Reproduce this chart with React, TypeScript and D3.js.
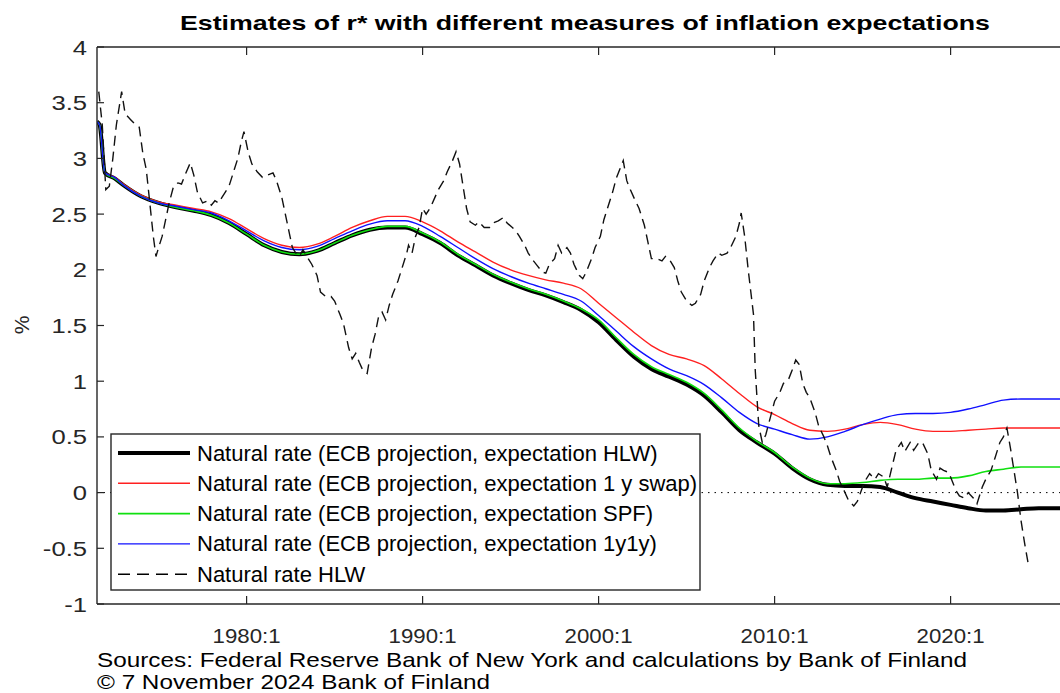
import React from "react";
import * as d3 from "d3";

// ---------- data ----------
const projDates = [
  1971.5, 1971.65, 1971.95, 1972.5,
  1973, 1974, 1975, 1976, 1977, 1978, 1979, 1980, 1981, 1982,
  1983, 1984, 1985, 1986, 1987, 1988, 1989, 1990, 1991, 1992,
  1993, 1994, 1995, 1996, 1997, 1998, 1999, 2000, 2001, 2002,
  2003, 2004, 2005, 2006, 2007, 2008, 2009, 2010, 2011, 2012,
  2013, 2014, 2015, 2016, 2017, 2018, 2019, 2020, 2021, 2022,
  2023, 2024, 2025, 2026, 2027,
];

const hlwExpectation = [
  3.33, 3.3, 2.87, 2.82,
  2.76, 2.66, 2.6, 2.56, 2.53, 2.49, 2.42, 2.32, 2.22, 2.16,
  2.14, 2.17, 2.24, 2.31, 2.36, 2.38, 2.38, 2.32, 2.24, 2.13,
  2.04, 1.95, 1.88, 1.82, 1.77, 1.71, 1.64, 1.53, 1.37, 1.22,
  1.11, 1.04, 0.97, 0.87, 0.72, 0.56, 0.45, 0.35, 0.22, 0.12,
  0.07, 0.06, 0.06, 0.05, 0.0, -0.05, -0.08, -0.11, -0.14, -0.16,
  -0.16, -0.15, -0.14, -0.14, -0.14,
];

const swapExpectation = [
  3.33, 3.3, 2.87, 2.83,
  2.77, 2.67, 2.61, 2.58, 2.55, 2.52, 2.46, 2.37, 2.28, 2.22,
  2.2, 2.23, 2.3, 2.38, 2.44, 2.48, 2.48, 2.43, 2.35, 2.25,
  2.16, 2.07, 2.0, 1.95, 1.91, 1.88, 1.83, 1.7, 1.57, 1.44,
  1.32, 1.24, 1.2, 1.14, 1.02, 0.89, 0.77, 0.7, 0.62, 0.56,
  0.55, 0.57, 0.61, 0.63, 0.61, 0.57, 0.55, 0.55, 0.56, 0.57,
  0.58, 0.58, 0.58, 0.58, 0.58,
];

const spfExpectation = [
  3.33, 3.3, 2.87, 2.82,
  2.76, 2.66, 2.6, 2.56, 2.53, 2.49, 2.42, 2.32, 2.22, 2.16,
  2.14, 2.17, 2.24, 2.31, 2.36, 2.39, 2.39, 2.33, 2.25, 2.14,
  2.05, 1.96, 1.89, 1.83, 1.78, 1.72, 1.65, 1.55, 1.39, 1.24,
  1.13, 1.06, 0.99, 0.89, 0.74, 0.58, 0.46, 0.36, 0.23, 0.13,
  0.08, 0.08, 0.09, 0.11, 0.12, 0.12, 0.13, 0.13, 0.15, 0.19,
  0.21, 0.23, 0.23, 0.23, 0.23,
];

const y1y1Expectation = [
  3.33, 3.3, 2.87, 2.83,
  2.76, 2.66, 2.6, 2.57, 2.54, 2.51, 2.44, 2.35, 2.26, 2.2,
  2.18, 2.21, 2.28, 2.35, 2.41, 2.44, 2.44, 2.39, 2.3, 2.2,
  2.1, 2.01, 1.94, 1.88, 1.83, 1.78, 1.72, 1.59, 1.45, 1.31,
  1.2, 1.11, 1.05, 0.97, 0.85, 0.72, 0.62, 0.57, 0.52, 0.48,
  0.5, 0.55, 0.61, 0.66, 0.7, 0.71, 0.71, 0.72, 0.75, 0.79,
  0.83, 0.84, 0.84, 0.84, 0.84,
];

const hlwDates = [
  1971.6, 1971.8, 1972.0, 1972.2, 1972.4, 1972.6, 1972.9, 1973.1, 1973.4, 1973.7,
  1973.9, 1974.1, 1974.3, 1974.5, 1974.7, 1974.85, 1975.0, 1975.2, 1975.4, 1975.6,
  1975.85, 1976.1, 1976.3, 1976.5, 1976.8, 1977.0, 1977.2, 1977.5, 1977.8, 1978.0,
  1978.2, 1978.4, 1978.6, 1978.8, 1979.0, 1979.3, 1979.5, 1979.7, 1979.85, 1980.1,
  1980.3, 1980.6, 1980.9, 1981.2, 1981.5, 1981.7, 1982.0, 1982.2, 1982.4, 1982.6,
  1982.8, 1983.0, 1983.2, 1983.5, 1983.7, 1984.0, 1984.2, 1984.5, 1984.8, 1985.0,
  1985.3, 1985.5, 1985.8, 1986.0, 1986.2, 1986.4, 1986.6, 1986.85, 1987.1, 1987.3,
  1987.5, 1987.7, 1987.9, 1988.1, 1988.3, 1988.6, 1988.8, 1989.1, 1989.2, 1989.4,
  1989.6, 1989.8, 1990.0, 1990.2, 1990.45, 1990.7, 1990.9, 1991.2, 1991.4, 1991.7,
  1991.9, 1992.1, 1992.3, 1992.5, 1992.7, 1993.0, 1993.2, 1993.5, 1993.8, 1994.0,
  1994.3, 1994.6, 1994.8, 1995.1, 1995.3, 1995.5, 1995.8, 1996.0, 1996.3, 1996.5,
  1996.8, 1997.0, 1997.2, 1997.5, 1997.7, 1997.9, 1998.2, 1998.4, 1998.6, 1998.9,
  1999.1, 1999.3, 1999.6, 1999.8, 2000.1, 2000.3, 2000.6, 2000.8, 2001.0, 2001.2,
  2001.4, 2001.6, 2001.8, 2002.0, 2002.3, 2002.6, 2002.8, 2003.0, 2003.3, 2003.6,
  2003.8, 2004.0, 2004.3, 2004.5, 2004.7, 2005.0, 2005.3, 2005.5, 2005.8, 2006.0,
  2006.3, 2006.5, 2006.8, 2007.0, 2007.3, 2007.5, 2007.8, 2008.0, 2008.1, 2008.3,
  2008.5, 2008.8, 2008.9, 2009.1, 2009.3, 2009.5, 2009.8, 2010.0, 2010.3, 2010.5,
  2010.8, 2011.0, 2011.2, 2011.4, 2011.6, 2011.8, 2012.0, 2012.3, 2012.5, 2012.8,
  2013.0, 2013.2, 2013.5, 2013.7, 2014.0, 2014.2, 2014.5, 2014.7, 2015.0, 2015.2,
  2015.4, 2015.7, 2015.9, 2016.2, 2016.4, 2016.7, 2016.9, 2017.2, 2017.4, 2017.7,
  2017.9, 2018.2, 2018.4, 2018.7, 2018.9, 2019.2, 2019.4, 2019.6, 2019.9, 2020.1,
  2020.3, 2020.5, 2020.8, 2021.0, 2021.3, 2021.5, 2021.8, 2022.0, 2022.3, 2022.5,
  2022.8, 2023.0, 2023.2, 2023.4, 2023.6, 2023.8, 2024.0, 2024.2, 2024.4,
];

const hlwValues = [
  3.6, 3.3, 2.72, 2.75, 3.0, 3.3, 3.6, 3.4, 3.35, 3.3,
  3.28, 3.05, 2.9, 2.6, 2.3, 2.12, 2.2, 2.3, 2.45, 2.6,
  2.75, 2.78, 2.77, 2.85, 2.96, 2.85, 2.7, 2.6, 2.62, 2.58,
  2.62, 2.6, 2.65, 2.7, 2.75, 2.9, 3.0, 3.15, 3.24, 3.05,
  2.95, 2.88, 2.83, 2.85, 2.87, 2.8, 2.65, 2.5, 2.35, 2.2,
  2.15, 2.12, 2.18, 2.1, 2.05, 1.95, 1.8, 1.76, 1.76, 1.72,
  1.6, 1.52, 1.3, 1.2, 1.25, 1.17, 1.1, 1.07, 1.3, 1.42,
  1.58, 1.62, 1.55, 1.68, 1.78, 1.9, 2.0, 2.15, 2.22, 2.15,
  2.3, 2.38, 2.55, 2.5, 2.56, 2.65, 2.72, 2.8, 2.88, 2.98,
  3.06, 2.95, 2.75, 2.55, 2.43, 2.4, 2.43, 2.38, 2.38, 2.42,
  2.44, 2.47, 2.42, 2.38, 2.35, 2.3, 2.22, 2.15, 2.08, 2.04,
  1.98, 1.97, 2.05, 2.1, 2.22, 2.15, 2.2, 2.15, 2.05, 1.95,
  1.92, 1.98, 2.1, 2.2, 2.3, 2.45, 2.6, 2.7, 2.82, 2.9,
  2.98, 2.8, 2.72, 2.65, 2.55, 2.4, 2.25, 2.1, 2.1, 2.08,
  2.12, 2.1, 2.02, 1.9, 1.8, 1.72, 1.68, 1.7, 1.78, 1.9,
  2.02, 2.08, 2.15, 2.13, 2.15, 2.2, 2.3, 2.42, 2.51, 2.3,
  2.0, 1.6, 1.1, 0.6, 0.45, 0.52, 0.7, 0.82, 0.9, 0.98,
  1.02, 1.1, 1.19, 1.15, 0.98, 0.9, 0.85, 0.72, 0.6, 0.5,
  0.42, 0.32, 0.2, 0.1, 0.0, -0.07, -0.12, -0.08, 0.05, 0.12,
  0.17, 0.12, 0.17, 0.14, 0.05, 0.25, 0.38, 0.45, 0.37, 0.45,
  0.38, 0.45, 0.45, 0.35, 0.2, 0.12, 0.22, 0.2, 0.18, 0.1,
  0.02, -0.03, -0.05, 0.0, -0.05, -0.1, 0.05, 0.12, 0.2, 0.3,
  0.45, 0.5, 0.58, 0.4, 0.2, 0.0, -0.25, -0.45, -0.63,
];

const yTicks = [-1, -0.5, 0, 0.5, 1, 1.5, 2, 2.5, 3, 3.5, 4];
const xTicks = [1980, 1990, 2000, 2010, 2020];
const xTickLabels = ["1980:1", "1990:1", "2000:1", "2010:1", "2020:1"];

const legendLabels = [
  "Natural rate (ECB projection, expectation HLW)",
  "Natural rate (ECB projection, expectation 1 y swap)",
  "Natural rate (ECB projection, expectation SPF)",
  "Natural rate (ECB projection, expectation 1y1y)",
  "Natural rate HLW",
];

const titleText = "Estimates of r* with different measures of inflation expectations";
const sourceText = "Sources: Federal Reserve Bank of New York and calculations by Bank of Finland";
const copyrightText = "\u00A9 7 November 2024 Bank of Finland";

// ---------- component ----------
const FONT = "'Liberation Sans', Arial, Helvetica, sans-serif";
const AXIS = "#262626";

export default function App() {
  const W = 1060;
  const H = 693;
  const left = 97;
  const top = 47;
  const bottom = 604;
  const x = d3.scaleLinear().domain([1971.5, 2027]).range([left, left + (2027 - 1971.5) * 17.6]);
  const y = d3.scaleLinear().domain([-1, 4]).range([bottom, top]);
  const right = x(2027);

  const smooth = d3
    .line<number>()
    .x((_, i) => x(projDates[i]))
    .y((d) => y(d))
    .curve(d3.curveMonotoneX);

  const hlwLine = d3
    .line<number>()
    .x((_, i) => x(hlwDates[i]))
    .y((d) => y(d));

  const series = [
    { values: hlwExpectation, color: "#000000", width: 4 },
    { values: swapExpectation, color: "#ff2020", width: 1.4 },
    { values: spfExpectation, color: "#10e010", width: 1.6 },
    { values: y1y1Expectation, color: "#1010ff", width: 1.4 },
  ];

  const legendStyles = [
    { color: "#000", width: 4, dash: undefined as string | undefined },
    { color: "#ff2020", width: 1.4, dash: undefined },
    { color: "#10e010", width: 1.6, dash: undefined },
    { color: "#1010ff", width: 1.4, dash: undefined },
    { color: "#000", width: 1.4, dash: "12,7" },
  ];

  const lgX = 111;
  const lgY = 434;
  const lgW = 589;
  const lgH = 156;

  return (
    <svg
      width={W}
      height={H}
      style={{ position: "absolute", left: 0, top: 0, background: "#fff" }}
      fontFamily={FONT}
    >
      <rect x={0} y={0} width={W} height={H} fill="#fff" />
      <defs>
        <clipPath id="plotClip">
          <rect x={left} y={top} width={right - left} height={bottom - top} />
        </clipPath>
      </defs>

      {/* title */}
      <text
        x={585}
        y={30}
        textAnchor="middle"
        fontWeight="bold"
        fontSize={21}
        fill="#000"
        textLength={810}
        lengthAdjust="spacingAndGlyphs"
      >
        {titleText}
      </text>

      {/* zero line */}
      <line
        x1={left}
        x2={right}
        y1={y(0)}
        y2={y(0)}
        stroke="#000"
        strokeWidth={1}
        strokeDasharray="1.5,5"
      />

      {/* series */}
      <g clipPath="url(#plotClip)">
        {series.map((s, i) => (
          <path
            key={i}
            d={smooth(s.values) || ""}
            fill="none"
            stroke={s.color}
            strokeWidth={s.width}
            strokeLinejoin="round"
          />
        ))}
        <path
          d={hlwLine(hlwValues) || ""}
          fill="none"
          stroke="#111"
          strokeWidth={1.4}
          strokeDasharray="10,6"
        />
      </g>

      {/* axes frame */}
      <line x1={left} x2={left} y1={top} y2={bottom} stroke={AXIS} strokeWidth={1.4} />
      <line x1={left} x2={right} y1={top} y2={top} stroke={AXIS} strokeWidth={1.4} />
      <line x1={left} x2={right} y1={bottom} y2={bottom} stroke={AXIS} strokeWidth={1.4} />

      {/* y ticks */}
      {yTicks.map((t) => (
        <g key={t}>
          <line x1={left} x2={left + 7} y1={y(t)} y2={y(t)} stroke={AXIS} strokeWidth={1.2} />
          <text
            x={0}
            y={0}
            transform={`translate(87,${y(t) + 7.5}) scale(1.22,1)`}
            textAnchor="end"
            fontSize={21}
            fill={AXIS}
          >
            {t}
          </text>
        </g>
      ))}

      {/* x ticks */}
      {xTicks.map((t, i) => (
        <g key={t}>
          <line x1={x(t)} x2={x(t)} y1={bottom} y2={bottom - 8} stroke={AXIS} strokeWidth={1.2} />
          <line x1={x(t)} x2={x(t)} y1={top} y2={top + 8} stroke={AXIS} strokeWidth={1.2} />
          <text
            x={x(t)}
            y={643}
            textAnchor="middle"
            fontSize={21}
            fill={AXIS}
            textLength={68}
            lengthAdjust="spacingAndGlyphs"
          >
            {xTickLabels[i]}
          </text>
        </g>
      ))}

      {/* y label */}
      <text
        transform={`translate(29,325) rotate(-90)`}
        textAnchor="middle"
        fontSize={21}
        fill={AXIS}
      >
        %
      </text>

      {/* legend */}
      <rect x={lgX} y={lgY} width={lgW} height={lgH} fill="#fff" stroke={AXIS} strokeWidth={1.4} />
      {legendLabels.map((lab, i) => {
        const ly = lgY + 19 + i * 30.3;
        const st = legendStyles[i];
        return (
          <g key={lab}>
            <line
              x1={118}
              x2={190}
              y1={ly}
              y2={ly}
              stroke={st.color}
              strokeWidth={st.width}
              strokeDasharray={st.dash}
            />
            <text x={197} y={ly + 7.5} fontSize={22} fill="#000">
              {lab}
            </text>
          </g>
        );
      })}

      {/* footnotes */}
      <text
        x={97}
        y={667}
        fontSize={21}
        fill="#000"
        textLength={870}
        lengthAdjust="spacingAndGlyphs"
      >
        {sourceText}
      </text>
      <text
        x={97}
        y={689}
        fontSize={21}
        fill="#000"
        textLength={393}
        lengthAdjust="spacingAndGlyphs"
      >
        {copyrightText}
      </text>
    </svg>
  );
}
